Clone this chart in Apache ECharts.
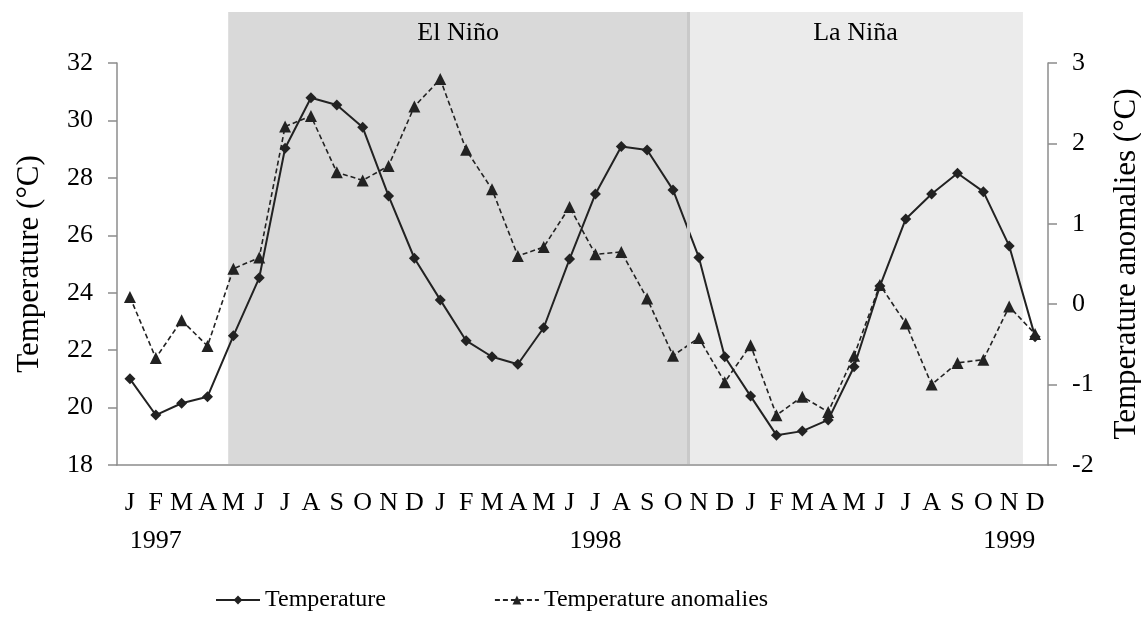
<!DOCTYPE html>
<html>
<head>
<meta charset="utf-8">
<script src="https://cdn.jsdelivr.net/npm/echarts@6/dist/echarts.min.js"></script>
<style>
  html, body { margin: 0; padding: 0; background: #fff; }
  #main { width: 1141px; height: 627px; }
</style>
</head>
<body>
<div id="main"></div>
<script>
// monthly series, Jan 1997 - Dec 1999
var monthNames = ['Jan', 'Feb', 'Mar', 'Apr', 'May', 'Jun', 'Jul', 'Aug', 'Sep', 'Oct', 'Nov', 'Dec']
var years = [1997, 1998, 1999]
var categories = []
years.forEach(function (y) {
  monthNames.forEach(function (m) { categories.push(m + ' ' + y) })
})

// year captions are shown under these months
var yearLabelAt = { 'Feb 1997': '1997', 'Jul 1998': '1998', 'Nov 1999': '1999' }

var temperature = [
  21.0, 19.74, 20.15, 20.38, 22.5, 24.52, 29.03, 30.79, 30.54, 29.76, 27.37, 25.2,
  23.75, 22.33, 21.77, 21.51, 22.78, 25.17, 27.44, 29.09, 28.97, 27.58, 25.23, 21.77,
  20.4, 19.04, 19.18, 19.57, 21.42, 24.23, 26.57, 27.44, 28.16, 27.52, 25.63, 22.47
]

var anomalies = [
  0.09, -0.67, -0.2, -0.52, 0.44, 0.58, 2.21, 2.34, 1.64, 1.54, 1.72, 2.46,
  2.8, 1.92, 1.43, 0.6, 0.71, 1.21, 0.62, 0.65, 0.07, -0.64, -0.42, -0.97,
  -0.51, -1.38, -1.15, -1.34, -0.64, 0.24, -0.24, -1.0, -0.73, -0.69, -0.03, -0.37
]

// ENSO phases, in months counted from Jan 1997
var phaseNames = ['El Niño', 'La Niña']
var phaseFrom = [4.3, 22.08]
var phaseTo = [22.08, 35.03]
var phaseColors = ['#d9d9d9', '#ebebeb']

var font = "'Liberation Serif', 'Times New Roman', serif"
var axisGray = '#8c8c8c'

var phaseAreas = phaseNames.map(function (name, i) {
  return [
    { name: name, xAxis: phaseFrom[i], yAxis: 0, itemStyle: { color: phaseColors[i] } },
    { xAxis: phaseTo[i], yAxis: 1 }
  ]
})

var myChart = echarts.init(document.getElementById('main'))

var options = {
  animation: false,
  textStyle: { fontFamily: font },
  grid: [
    { left: 117, right: 93, top: 63, bottom: 162, outerBoundsMode: 'none' },
    { left: 117, right: 93, top: 12, bottom: 163, outerBoundsMode: 'none' }
  ],
  legend: {
    data: ['Temperature', 'Temperature anomalies'],
    left: 210,
    top: 583,
    itemWidth: 44,
    itemHeight: 11,
    itemGap: 108,
    textStyle: { fontFamily: font, fontSize: 24, color: '#000' }
  },
  xAxis: [
    {
      type: 'category',
      gridIndex: 0,
      data: categories,
      boundaryGap: true,
      axisLine: { onZero: false, lineStyle: { color: axisGray, width: 1.5 } },
      axisTick: { interval: 0, length: 6, lineStyle: { color: axisGray, width: 1.5 } },
      axisLabel: {
        interval: 0,
        margin: 19,
        color: '#000',
        fontFamily: font,
        fontSize: 26,
        lineHeight: 38,
        formatter: function (v) {
          var label = v.charAt(0)
          if (yearLabelAt[v]) label += '\n' + yearLabelAt[v]
          return label
        }
      },
      splitLine: { show: false }
    },
    {
      type: 'value',
      gridIndex: 1,
      min: 0,
      max: 36,
      show: false
    }
  ],
  yAxis: [
    {
      type: 'value',
      gridIndex: 0,
      min: 18,
      max: 32,
      interval: 2,
      name: 'Temperature (°C)',
      nameLocation: 'middle',
      nameRotate: 90,
      nameGap: 72,
      nameTextStyle: { fontFamily: font, fontSize: 31, color: '#000' },
      axisLine: { show: true, onZero: false, lineStyle: { color: axisGray, width: 1.5 } },
      axisTick: { show: true, length: 9, lineStyle: { color: axisGray, width: 1.5 } },
      axisLabel: { margin: 24, color: '#000', fontFamily: font, fontSize: 26 },
      splitLine: { show: false }
    },
    {
      type: 'value',
      gridIndex: 0,
      position: 'right',
      min: -2,
      max: 3,
      interval: 1,
      name: 'Temperature anomalies (°C)',
      nameLocation: 'middle',
      nameRotate: 90,
      nameGap: 63,
      nameTextStyle: { fontFamily: font, fontSize: 31, color: '#000' },
      axisLine: { show: true, onZero: false, lineStyle: { color: axisGray, width: 1.5 } },
      axisTick: { show: true, length: 9, lineStyle: { color: axisGray, width: 1.5 } },
      axisLabel: { margin: 24, color: '#000', fontFamily: font, fontSize: 26 },
      splitLine: { show: false }
    },
    {
      type: 'value',
      gridIndex: 1,
      min: 0,
      max: 1,
      show: false
    }
  ],
  series: [
    {
      name: 'phases',
      type: 'line',
      xAxisIndex: 1,
      yAxisIndex: 2,
      data: [],
      silent: true,
      z: 0,
      markArea: {
        silent: true,
        label: {
          show: true,
          position: 'insideTop',
          distance: 8,
          color: '#000',
          fontFamily: font,
          fontSize: 26
        },
        data: phaseAreas
      },
      markLine: {
        silent: true,
        symbol: 'none',
        label: { show: false },
        lineStyle: { color: '#c9c9c9', width: 3, type: 'solid' },
        data: [{ xAxis: phaseTo[0] }]
      }
    },
    {
      name: 'Temperature',
      type: 'line',
      xAxisIndex: 0,
      yAxisIndex: 0,
      data: temperature,
      symbol: 'diamond',
      symbolSize: 11,
      z: 4,
      itemStyle: { color: '#222' },
      lineStyle: { color: '#222', width: 2 }
    },
    {
      name: 'Temperature anomalies',
      type: 'line',
      xAxisIndex: 0,
      yAxisIndex: 1,
      data: anomalies,
      symbol: 'triangle',
      symbolSize: 12,
      z: 3,
      itemStyle: { color: '#222' },
      lineStyle: { color: '#222', width: 1.6, type: [5, 3] }
    }
  ]
}

myChart.setOption(options)
</script>
</body>
</html>
